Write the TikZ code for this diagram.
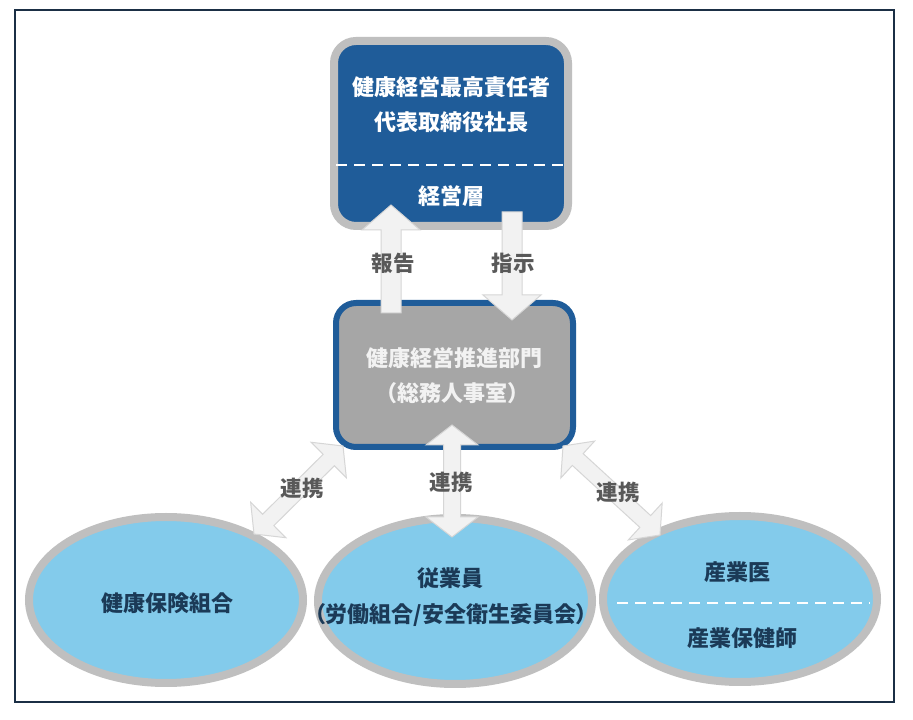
\documentclass[tikz,border=0pt]{standalone}
\usepackage{fontspec}
\newfontfamily\jp{Noto Sans CJK JP}
\newfontfamily\jpp[RawFeature=+palt]{Noto Sans CJK JP}
\usetikzlibrary{calc,shapes.geometric}
\definecolor{frameC}{HTML}{1B2F45}
\definecolor{topblue}{HTML}{1F5C99}
\definecolor{rimgray}{HTML}{BFBFBF}
\definecolor{midfill}{HTML}{A6A6A6}
\definecolor{arrfill}{HTML}{F2F2F2}
\definecolor{arrline}{HTML}{D6D6D6}
\definecolor{labgray}{HTML}{595959}
\definecolor{ellfill}{HTML}{83CBEB}
\definecolor{elltext}{HTML}{1B3A57}
\definecolor{midtext}{HTML}{F2F2F2}
\tikzset{
  topbox/.style={draw=rimgray, fill=topblue, line width=8pt, rounded corners=22pt,
    minimum width=234pt, minimum height=185pt, inner sep=0pt},
  midbox/.style={draw=topblue, fill=midfill, line width=6pt, rounded corners=20pt,
    minimum width=237pt, minimum height=144pt, inner sep=0pt},
  ellbox/.style={ellipse, draw=rimgray, fill=ellfill, line width=8pt,
    minimum width=274pt, minimum height=166pt, inner sep=0pt},
  toptext/.style={text=white, font=\jp\bfseries\fontsize{22}{26}\selectfont, inner sep=0pt},
  midtextst/.style={text=midtext, font=\jp\bfseries\fontsize{22}{26}\selectfont, inner sep=0pt},
  elltextst/.style={text=elltext, font=\jp\bfseries\fontsize{22}{26}\selectfont, inner sep=0pt},
  labtext/.style={text=labgray, font=\jp\bfseries\fontsize{21.5}{25}\selectfont, inner sep=0pt},
  divline/.style={draw=white, line width=2.4pt, dash pattern=on 11pt off 7pt},
  blockarr/.style={draw=arrline, fill=arrfill, line width=1pt, line join=miter},
}
% single-headed block arrow from #1 to #2; shaft half width #3, head half width #4, head length #5
\newcommand{\myblockarrow}[5]{%
  \path[blockarr]
    ($(#1)!#3!90:(#2)$) --
    ($($(#2)!#5!(#1)$)!#3!90:(#2)$) --
    ($($(#2)!#5!(#1)$)!#4!90:(#2)$) --
    (#2) --
    ($($(#2)!#5!(#1)$)!#4!-90:(#2)$) --
    ($($(#2)!#5!(#1)$)!#3!-90:(#2)$) --
    ($(#1)!#3!-90:(#2)$) -- cycle;}
% double-headed block arrow
\newcommand{\mydoublearrow}[5]{%
  \path[blockarr]
    (#1) --
    ($($(#1)!#5!(#2)$)!#4!90:(#2)$) --
    ($($(#1)!#5!(#2)$)!#3!90:(#2)$) --
    ($($(#2)!#5!(#1)$)!#3!90:(#2)$) --
    ($($(#2)!#5!(#1)$)!#4!90:(#2)$) --
    (#2) --
    ($($(#2)!#5!(#1)$)!#4!-90:(#2)$) --
    ($($(#2)!#5!(#1)$)!#3!-90:(#2)$) --
    ($($(#1)!#5!(#2)$)!#3!-90:(#2)$) --
    ($($(#1)!#5!(#2)$)!#4!-90:(#2)$) -- cycle;}
\begin{document}
\begin{tikzpicture}[x=1pt,y=1pt]
\useasboundingbox (0,0) rectangle (913,720);
\fill[white] (0,0) rectangle (913,720);
\draw[frameC, line width=1.6pt] (15,710) rectangle (894,18);

% top box
\node[topbox] (top) at (451,586.5) {};
\draw[divline] ($(top.west)+(6,-31.5)$) coordinate (dl1) -- ($(top.east)+(-5,-31.5)$) coordinate (dl2);
\node[toptext] (t1) at (451,633) {健康経営最高責任者};
\node[toptext] (t2) at (451,598) {代表取締役社長};
\node[toptext] (t3) at (451,524) {経営層};

% middle box
\node[midbox] (mid) at (454.5,345) {};
\node[midtextst] (m1) at (454,362) {健康経営推進部門};
\node[midtextst] (m2) at (452,327) {（総務人事室）};

% ellipses
\node[ellbox] (e1) at (166,120) {};
\node[ellbox] (e2) at (455,119) {};
\node[ellbox] (e3) at (740,121) {};
\node[elltextst] (e1t) at (167,117) {健康保険組合};
\node[elltextst] (e2a) at (450,142) {従業員};
\node[elltextst, font=\jpp\bfseries\fontsize{22}{26}\selectfont] (e2b) at (451,105) {（労働組合/安全衛生委員会）};
\draw[divline] (617,117) coordinate (rd1) -- (870,117) coordinate (rd2);
\node[elltextst] (e3a) at (737,148) {産業医};
\node[elltextst] (e3b) at (742,82) {産業保健師};

% arrow end points
\coordinate (repS) at (391,407);
\coordinate (repE) at (391,515);
\coordinate (insS) at (512,508);
\coordinate (insE) at (512,400);
\coordinate (cMa) at (452,295);
\coordinate (cMb) at (452,183);
\coordinate (cLa) at (343,274);
\coordinate (cLb) at (254,186);
\coordinate (cRa) at (563,274);
\coordinate (cRb) at (660,185);

\myblockarrow{repS}{repE}{10pt}{29pt}{25pt}
\myblockarrow{insS}{insE}{10pt}{29pt}{25pt}
\mydoublearrow{cMa}{cMb}{8.5pt}{26pt}{20pt}
\mydoublearrow{cLa}{cLb}{8pt}{25pt}{20pt}
\mydoublearrow{cRa}{cRb}{8pt}{25pt}{20pt}

\node[labtext] (l1) at (393,457) {報告};
\node[labtext] (l2) at (513,457) {指示};
\node[labtext] (l3) at (302,232) {連携};
\node[labtext] (l4) at (451,238) {連携};
\node[labtext] (l5) at (618,228) {連携};
\end{tikzpicture}
\end{document}
